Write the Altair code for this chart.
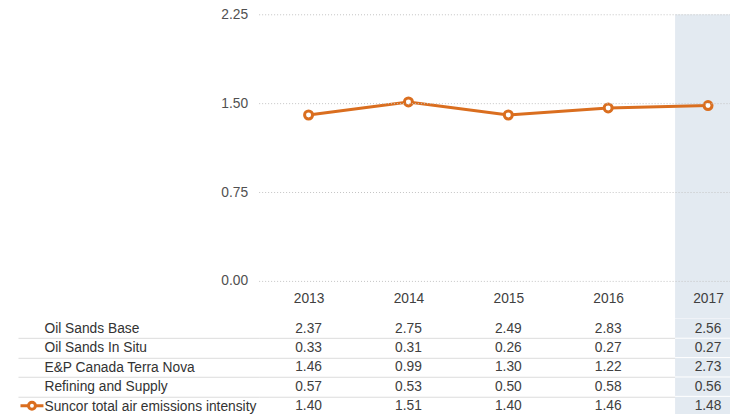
import altair as alt
import pandas as pd

# ---- data ----
years = [2013, 2014, 2015, 2016, 2017]
row_names = [
    "Oil Sands Base",
    "Oil Sands In Situ",
    "E&P Canada Terra Nova",
    "Refining and Supply",
    "Suncor total air emissions intensity",
]
oil_sands_base = [2.37, 2.75, 2.49, 2.83, 2.56]
oil_sands_in_situ = [0.33, 0.31, 0.26, 0.27, 0.27]
terra_nova = [1.46, 0.99, 1.30, 1.22, 2.73]
refining_supply = [0.57, 0.53, 0.50, 0.58, 0.56]
suncor_total = [1.40, 1.51, 1.40, 1.46, 1.48]
y_ticks = [0, 0.75, 1.5, 2.25]
highlight_year = 2017

ORANGE = "#DA6E1F"
HL = "#E3EAF1"
FONT = "Liberation Sans"
FS = 13.8

series_values = [oil_sands_base, oil_sands_in_situ, terra_nova, refining_supply, suncor_total]
table_df = pd.DataFrame(
    [{"row": r, "year": y, "value": v}
     for r, vals in zip(row_names, series_values)
     for y, v in zip(years, vals)]
)
line_df = pd.DataFrame({"year": years, "value": suncor_total, "series": row_names[-1]})
hl_df = pd.DataFrame({"start": [highlight_year - 0.33], "end": [highlight_year + 0.33]})
sep_df = pd.DataFrame({"row": row_names[:-1],
                       "start": highlight_year - 0.33, "end": highlight_year + 0.33})

x_scale = alt.Scale(domain=[2012.5, 2017.22], nice=False, zero=False)

x_axis_top = alt.Axis(
    values=years, format="d", title=None, domain=False, ticks=False, tickSize=0,
    labelPadding=0, offset=-20, labelBaseline="middle", labelFlush=False,
    labelFont=FONT, labelFontSize=FS, labelColor="#404040", grid=False, zindex=1,
)
y_axis_top = alt.Axis(
    values=y_ticks, format=".2f", title=None, domain=False, ticks=False,
    labelPadding=11, grid=True, gridColor="#c4c4c4", gridDash=[1, 2], gridWidth=1,
    zindex=1, labelFont=FONT, labelFontSize=FS, labelColor="#505050",
)
y_scale_top = alt.Scale(domain=[0, 2.25], range=[267, 0], nice=False, zero=True)

sym_path = "M-1,0H-0.3M0.3,0H1M-0.3,0A0.3,0.3 0 1,0 0.3,0A0.3,0.3 0 1,0 -0.3,0"

hl_top = alt.Chart(hl_df).mark_rect(color=HL, clip=True).encode(
    x=alt.X("start:Q", scale=x_scale, axis=x_axis_top), x2="end:Q"
)
line = alt.Chart(line_df).mark_line(strokeWidth=3).encode(
    x=alt.X("year:Q", scale=x_scale, axis=x_axis_top),
    y=alt.Y("value:Q", scale=y_scale_top, axis=y_axis_top),
    color=alt.Color(
        "series:N",
        scale=alt.Scale(range=[ORANGE]),
        legend=alt.Legend(
            orient="none", legendX=-240, legendY=379, title=None, labelExpr="''",
            symbolType=sym_path, symbolSize=529, symbolStrokeWidth=3,
            symbolFillColor="white", symbolStrokeColor=ORANGE, padding=0,
        ),
    ),
)
points = alt.Chart(line_df).mark_point(
    shape="circle", filled=True, fill="white", stroke=ORANGE, strokeWidth=3,
    size=64, opacity=1,
).encode(
    x=alt.X("year:Q", scale=x_scale, axis=x_axis_top),
    y=alt.Y("value:Q", scale=y_scale_top, axis=y_axis_top),
)
top = alt.layer(hl_top, line, points).properties(width=472, height=305)

TBL_H = 97
half_step = TBL_H / len(row_names) / 2
row_scale = alt.Scale(domain=row_names, paddingInner=0, paddingOuter=0)
y_axis_tbl = alt.Axis(
    title=None, domain=False, ticks=True, tickSize=241, tickOffset=half_step,
    tickColor="#dcdcdc", tickWidth=1, grid=True, gridColor="#dcdcdc", gridWidth=1,
    labelOffset=-half_step, labelAlign="left", labelPadding=-26,
    labelBaseline="middle", labelLimit=0,
    labelFont=FONT, labelFontSize=FS, labelColor="#333333",
)
hl_tbl = alt.Chart(hl_df).mark_rect(color=HL, clip=True).encode(
    x=alt.X("start:Q", scale=x_scale, axis=None), x2="end:Q"
)
sep_hl = alt.Chart(sep_df).mark_rule(color="white", strokeWidth=1, clip=True).encode(
    x=alt.X("start:Q", scale=x_scale, axis=None), x2="end:Q",
    y=alt.Y("row:N", sort=row_names, scale=row_scale, bandPosition=1, axis=y_axis_tbl),
)
txt = alt.Chart(table_df).mark_text(font=FONT, fontSize=FS, color="#404040").encode(
    x=alt.X("year:Q", scale=x_scale, axis=None),
    y=alt.Y("row:N", sort=row_names, scale=row_scale, axis=y_axis_tbl),
    text=alt.Text("value:Q", format=".2f"),
)
table = alt.layer(hl_tbl, sep_hl, txt).properties(width=472, height=TBL_H)

chart = alt.vconcat(top, table, spacing=0, bounds="flush").properties(
    padding={"left": 9, "top": -1, "right": 0, "bottom": 0}
).configure_view(stroke=None)

chart.save("out.html", embed_options={"renderer": "svg", "actions": False})
